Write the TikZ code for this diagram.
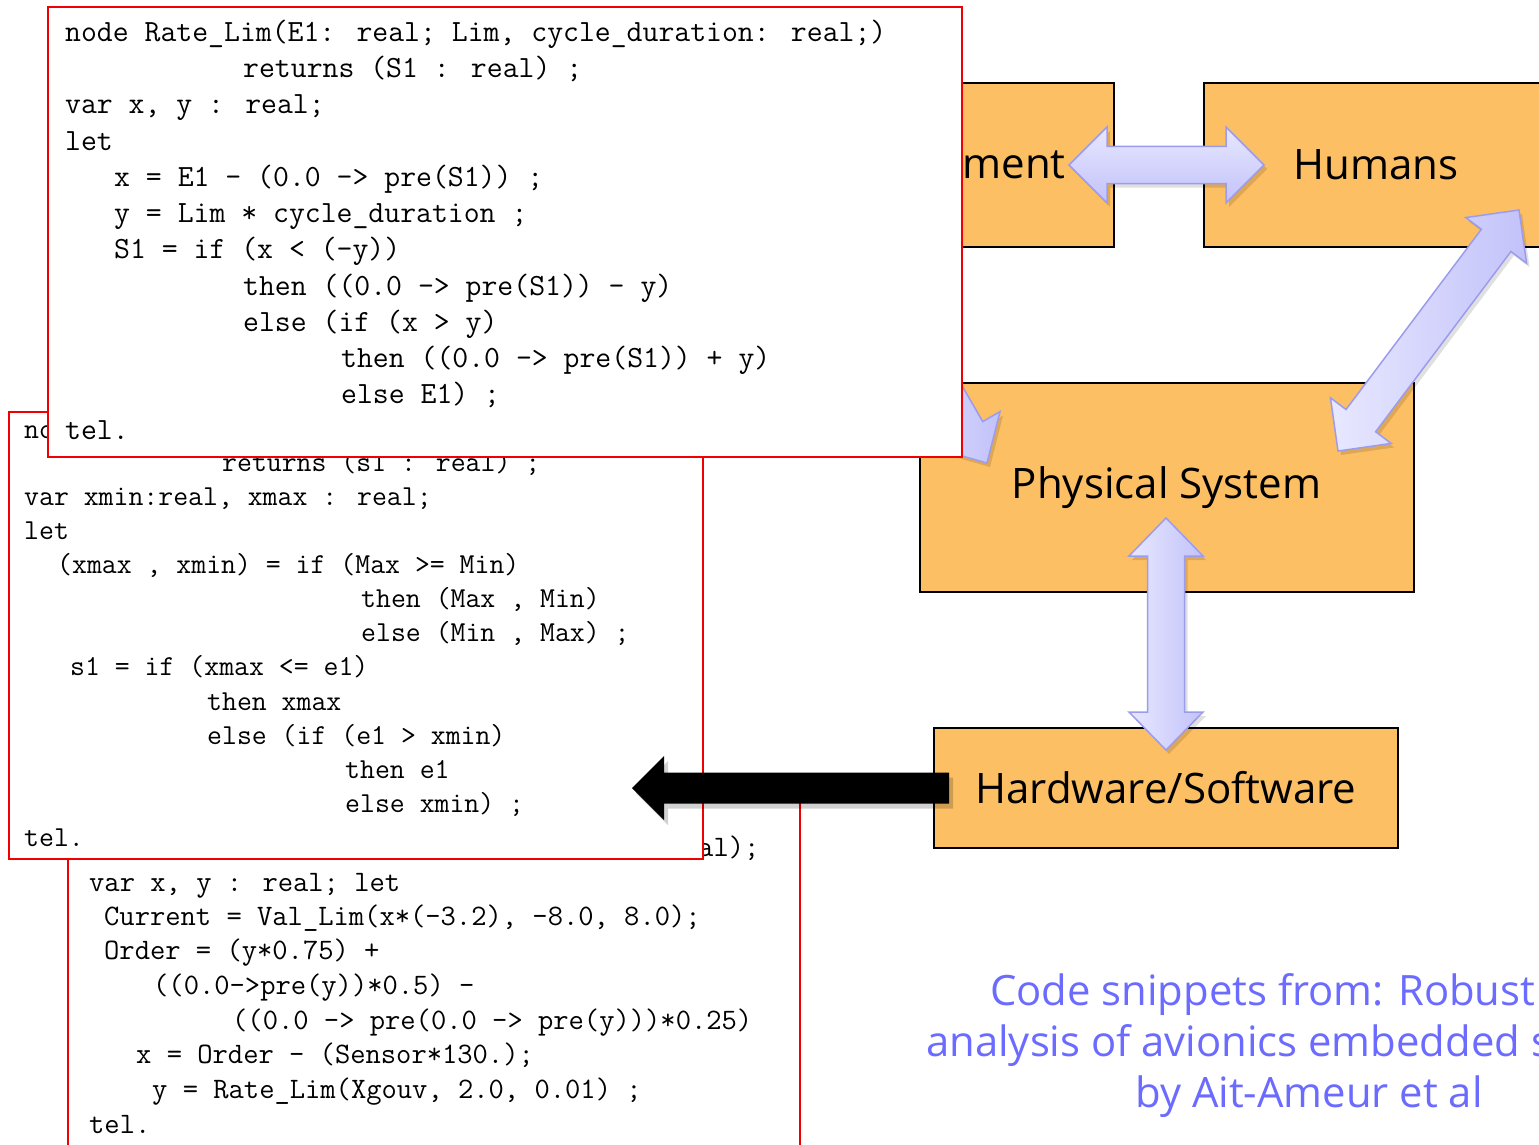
\documentclass[tikz,border=0pt]{standalone}
\usepackage{fontspec}
\usepackage{graphicx}
\newfontfamily\comicf{Open Sans}
\usetikzlibrary{calc}
\definecolor{boxor}{RGB}{252,191,99}
\definecolor{lavA}{RGB}{232,232,255}
\definecolor{lavB}{RGB}{194,194,250}
\definecolor{lavline}{RGB}{156,156,238}
\definecolor{capblue}{RGB}{107,107,255}
\definecolor{panelred}{RGB}{240,0,0}
% double arrow: #1 style, #2 end a, #3 end b, #4 half shaft, #5 half head, #6 head length
\newcommand\dblarr[6]{%
  \path[#1] (#2) -- ($(#2)!#6!(#3)!#5!90:(#3)$) -- ($(#2)!#6!(#3)!#4!90:(#3)$)
    -- ($(#3)!#6!(#2)!#4!-90:(#2)$) -- ($(#3)!#6!(#2)!#5!-90:(#2)$) -- (#3)
    -- ($(#3)!#6!(#2)!#5!90:(#2)$) -- ($(#3)!#6!(#2)!#4!90:(#2)$)
    -- ($(#2)!#6!(#3)!#4!-90:(#3)$) -- ($(#2)!#6!(#3)!#5!-90:(#3)$) -- cycle;}
% single arrow: #1 style, #2 tail, #3 tip, #4 half shaft, #5 half head, #6 head length
\newcommand\onearr[6]{%
  \path[#1] ($(#2)!#4!90:(#3)$) -- ($(#3)!#6!(#2)!#4!-90:(#2)$) -- ($(#3)!#6!(#2)!#5!-90:(#2)$)
    -- (#3) -- ($(#3)!#6!(#2)!#5!90:(#2)$) -- ($(#3)!#6!(#2)!#4!90:(#2)$)
    -- ($(#2)!#4!-90:(#3)$) -- cycle;}
\begin{document}
\begin{tikzpicture}[x=1pt,y=-1pt,
  dbox/.style={draw=black, line width=2pt, fill=boxor, inner sep=0pt, font=\comicf\fontsize{42}{50}\selectfont},
  panel/.style={draw=panelred, line width=2pt, fill=white},
  codeA/.style={anchor=base west, inner sep=0pt, font=\fontsize{30.86}{36}\selectfont\ttfamily},
  codeB/.style={anchor=base west, inner sep=0pt, font=\fontsize{28.95}{34}\selectfont\ttfamily},
  codeC/.style={anchor=base west, inner sep=0pt, font=\fontsize{29.7}{35}\selectfont\ttfamily},
  lavH/.style={draw=lavline, line width=1.5pt, top color=lavA, bottom color=lavB},
  lavV/.style={draw=lavline, line width=1.5pt, left color=lavA, right color=lavB},
  shad/.style={fill=black, opacity=0.12, transform canvas={xshift=3pt,yshift=-4pt}},
  capt/.style={inner sep=0pt, text=capblue, font=\comicf\fontsize{41.8}{51}\selectfont}]
\useasboundingbox (0,0) rectangle (1539,1145);
\clip (0,0) rectangle (1539,1145);
\fill[white] (0,0) rectangle (1539,1145);

% diagram boxes
\node[dbox, minimum width=200pt, minimum height=164pt] (env) at (1014,165) {ment};
\node[dbox, minimum width=344pt, minimum height=164pt] (hum) at (1376,165) {Humans};
\node[dbox, minimum width=494pt, minimum height=209pt] (phys) at (1166.5,487.5) {Physical System};
\node[dbox, minimum width=464pt, minimum height=120pt] (hw) at (1166,788) {Hardware/Software};

% arrow end points
\coordinate (hA) at (1069,165);
\coordinate (hB) at (1264,165);
\coordinate (dA) at (1338,451);
\coordinate (dB) at (1519,210);
\coordinate (vA) at (1166,518);
\coordinate (vB) at (1166,750);
\coordinate (eT) at (887,290);
\coordinate (eH) at (987,463);

% shadows
\dblarr{shad}{hA}{hB}{18.5pt}{38pt}{38pt}
\dblarr{shad}{dA}{dB}{18.5pt}{38pt}{38pt}
\dblarr{shad}{vA}{vB}{18.5pt}{37pt}{38pt}
\onearr{shad}{eT}{eH}{17pt}{37pt}{38pt}
% lavender arrows
\dblarr{lavH}{hA}{hB}{18.5pt}{38pt}{38pt}
\dblarr{lavV}{dA}{dB}{18.5pt}{38pt}{38pt}
\dblarr{lavV}{vA}{vB}{18.5pt}{37pt}{38pt}
\onearr{lavV}{eT}{eH}{17pt}{37pt}{38pt}

% panel 3 (back)
\filldraw[panel] (68,785) rectangle (800,1160);
\foreach \px/\py/\txt [count=\i] in {
  698/856/{al);},
  89/891/{var x, y : real; let},
  104/925/{Current = Val\_Lim(x*(-3.2), -8.0, 8.0);},
  104/959/{Order = (y*0.75) +},
  153/994/{((0.0->pre(y))*0.5) -},
  232/1029/{((0.0 -> pre(0.0 -> pre(y)))*0.25)},
  136/1063/{x = Order - (Sensor*130.);},
  152/1098/{y = Rate\_Lim(Xgouv, 2.0, 0.01) ;},
  89/1133/{tel.}}
  \node[codeC] (c\i) at (\px,\py) {\txt};

% panel 2 (middle)
\filldraw[panel] (9,412) rectangle (703,859);
\foreach \px/\py/\txt [count=\i] in {
  24/438/{no},
  222/471/{returns (s1 : real) ;},
  24/505/{var xmin:real, xmax : real;},
  24/539/{let},
  57/573/{(xmax , xmin) = if (Max >= Min)},
  361/607/{then (Max , Min)},
  361/641/{else (Min , Max) ;},
  70/675/{s1 = if (xmax <= e1)},
  207/710/{then xmax},
  207/744/{else (if (e1 > xmin)},
  345/778/{then e1},
  345/812/{else xmin) ;},
  24/846/{tel.}}
  \node[codeB] (b\i) at (\px,\py) {\txt};

% panel 1 (front)
\filldraw[panel] (48,7) rectangle (962,457);
\foreach \px/\py/\txt [count=\i] in {
  65/42/{node Rate\_Lim(E1: real; Lim, cycle\_duration: real;)},
  243/78/{returns (S1 : real) ;},
  65/114/{var x, y : real;},
  65/150/{let},
  114/186/{x = E1 - (0.0 -> pre(S1)) ;},
  114/222/{y = Lim * cycle\_duration ;},
  114/258/{S1 = if (x < (-y))},
  243/295/{then ((0.0 -> pre(S1)) - y)},
  243/331/{else (if (x > y)},
  341/367/{then ((0.0 -> pre(S1)) + y)},
  341/403/{else E1) ;},
  65/439/{tel.}}
  \node[codeA] (a\i) at (\px,\py) {\txt};

% black arrow from Hardware/Software to the code
\coordinate (kT) at (949,788);
\coordinate (kH) at (632,788);
\onearr{fill=black, opacity=0.18, transform canvas={xshift=4pt,yshift=-5pt}}{kT}{kH}{15.5pt}{32pt}{32pt}
\onearr{fill=black}{kT}{kH}{15.5pt}{32pt}{32pt}

% caption
\node[capt, anchor=base west] (cap1) at (990,1005) {Code snippets from: Robust};
\node[capt, anchor=base west] (cap2) at (926,1056) {analysis of avionics embedded s};
\node[capt, anchor=base] (cap3) at (1309,1107) {by Ait-Ameur et al};
\end{tikzpicture}
\end{document}
